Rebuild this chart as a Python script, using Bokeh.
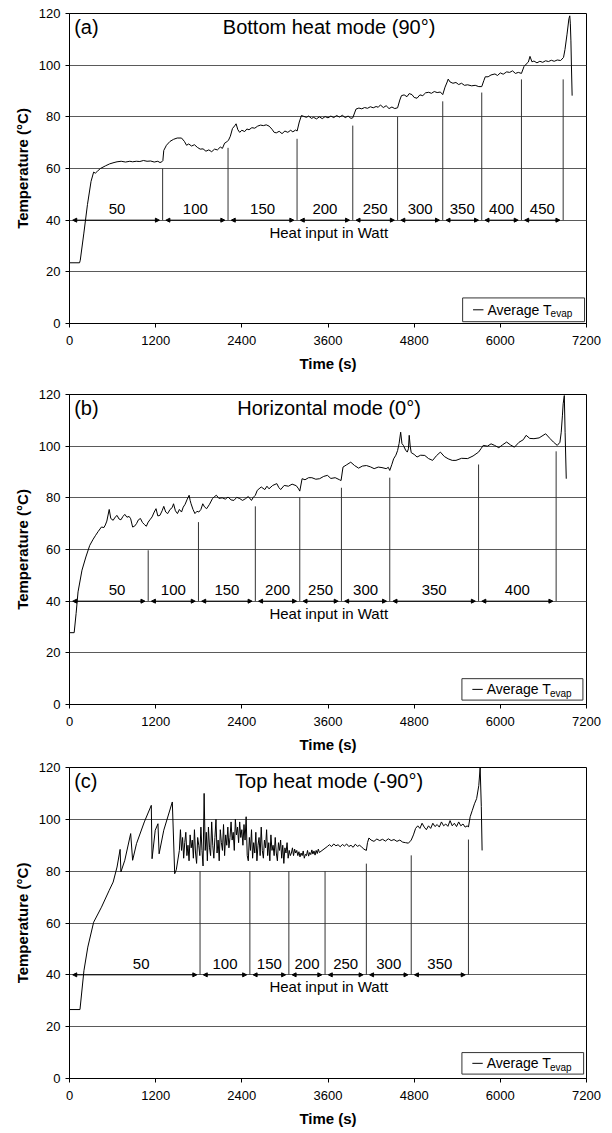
import numpy as np
from bokeh.plotting import figure
from bokeh.layouts import column
from bokeh.models import Arrow, NormalHead, FixedTicker, Range1d
from bokeh.core.properties import value
from bokeh.embed import file_html
from bokeh.resources import INLINE

FONT = "Liberation Sans"

# ---------------- Panel (a): Bottom heat mode (90°) ----------------
a_time = [0, 140, 150, 200, 250, 300, 336, 360, 391, 430, 499, 560, 620, 662, 720, 780, 840, 879, 930, 980,
          1030, 1080, 1130, 1180, 1230, 1260, 1286, 1300, 1313, 1350, 1400, 1450, 1500, 1560, 1600, 1630, 1660,
          1700, 1740, 1780, 1820, 1860, 1900, 1940, 1980, 2020, 2060, 2100, 2130, 2160, 2190, 2215, 2240, 2270,
          2300, 2320, 2345, 2370, 2400, 2440, 2470, 2500, 2540, 2580, 2620, 2660, 2700, 2740, 2780, 2820, 2850,
          2880, 2920, 2960, 3000, 3040, 3080, 3110, 3150, 3170, 3200, 3230, 3260, 3300, 3330, 3370, 3400, 3440,
          3480, 3520, 3560, 3600, 3640, 3680, 3720, 3760, 3800, 3840, 3880, 3920, 3945, 3970, 3990, 4030, 4070,
          4110, 4150, 4190, 4230, 4270, 4300, 4330, 4370, 4410, 4450, 4490, 4530, 4569, 4600, 4623, 4660, 4700,
          4731, 4770, 4800, 4840, 4880, 4920, 4960, 5003, 5040, 5080, 5120, 5165, 5198, 5230, 5260, 5274, 5300,
          5340, 5382, 5420, 5460, 5500, 5545, 5600, 5650, 5700, 5741, 5770, 5790, 5830, 5870, 5925, 5960, 6000,
          6040, 6088, 6130, 6170, 6210, 6251, 6294, 6330, 6359, 6390, 6413, 6440, 6468, 6510, 6550, 6590, 6631,
          6670, 6710, 6750, 6793, 6840, 6880, 6900, 6929, 6955, 6967, 6975, 6983, 6990, 7000]
a_temp = [23.5, 23.5, 24.5, 35, 46, 55, 58.6, 58.2, 59, 60, 61, 61.8, 62.3, 62.6, 62.8, 62.5, 62.8, 62.6, 62.8, 62.7,
          63.1, 62.8, 62.9, 62.5, 62.8, 62.3, 62.6, 63, 67, 69, 70.5, 71.3, 71.8, 71.8, 70.5, 69, 69.5,
          68.7, 69.2, 68.2, 67.5, 67.6, 66.7, 67.2, 66.5, 67.5, 67.2, 68.3, 67.8, 69.8, 70.3, 71, 72.5, 75.5,
          76.5, 77.3, 75, 74, 74.8, 74.3, 75.3, 75, 75.8, 75.6, 76.4, 76.8, 76.6, 76.9, 76.4, 75.2, 74,
          73.8, 74.4, 73.5, 74.5, 74, 74.8, 74.2, 74.9, 74.5, 78, 80.5, 80.2, 79.8, 80.3, 79.4, 79.8, 79.2,
          80, 79.3, 80.1, 79.6, 80.3, 79.7, 80.5, 79.9, 80.6, 79.7, 80.3, 79.4, 79.6, 81.5, 83, 83.4, 83.1,
          83.6, 83.3, 83.9, 83.5, 84, 83.7, 84.6, 83.6, 84.3, 83.2, 83.8, 83.2, 83.5, 86.5, 88.2, 88.5, 87.8,
          89, 88.6, 87.5, 87.2, 88.5, 88.2, 89.3, 89.5, 89.1, 89.8, 89.4, 89.6, 88.6, 91.5, 93.5, 94.6, 93.5,
          93, 93.3, 92.5, 93, 92.2, 92.4, 92, 92.2, 91.7, 91.7, 94, 95.5, 95.5, 96.2, 96.6, 96, 97,
          96.5, 97.4, 97.2, 97.8, 96.8, 97.2, 96.8, 99.5, 100.4, 101.2, 103.4, 101.3, 101.6, 100.9, 101.5, 101.1, 101.7,
          101.4, 101.9, 101.5, 102, 101.8, 103, 106, 112, 118, 119.1, 116, 109.4, 100, 88.2]
a_bounds = [0, 1297, 2208, 3169, 3945, 4569, 5198, 5741, 6294, 6875]
a_tops = [60, 68, 71.5, 76.6, 80, 86, 89.4, 94.5, 94.5]
a_watts = ["50", "100", "150", "200", "250", "300", "350", "400", "450"]

# ---------------- Panel (b): Horizontal mode (0°) ----------------
b_time = [0, 65, 92, 119, 174, 228, 282, 330, 364, 400, 445, 480, 499, 520, 553, 575, 608, 635, 662, 690, 716,
          745, 770, 800, 830, 852, 879, 905, 933, 960, 988, 1015, 1042, 1070, 1096, 1120, 1150, 1180, 1205, 1230,
          1259, 1290, 1313, 1340, 1367, 1400, 1430, 1449, 1475, 1503, 1530, 1560, 1584, 1610, 1640, 1666, 1680,
          1693, 1720, 1747, 1775, 1801, 1830, 1856, 1880, 1910, 1950, 1991, 2020, 2046, 2080, 2127, 2170, 2208,
          2250, 2290, 2330, 2371, 2410, 2453, 2490, 2534, 2560, 2588, 2615, 2640, 2670, 2720, 2750, 2778, 2830,
          2887, 2915, 2941, 2990, 3049, 3100, 3158, 3190, 3207, 3239, 3280, 3330, 3375, 3430, 3483, 3540, 3592,
          3640, 3700, 3760, 3782, 3809, 3860, 3917, 3970, 4026, 4080, 4135, 4190, 4243, 4300, 4352, 4410, 4440,
          4460, 4490, 4514, 4545, 4569, 4590, 4612, 4630, 4650, 4680, 4704, 4720, 4731, 4745, 4759, 4800, 4840,
          4890, 4948, 5000, 5057, 5110, 5165, 5220, 5274, 5330, 5382, 5460, 5545, 5620, 5697, 5730, 5762, 5820,
          5871, 5920, 5979, 6030, 6088, 6140, 6196, 6260, 6320, 6359, 6410, 6468, 6540, 6631, 6690, 6739, 6793,
          6830, 6848, 6865, 6875, 6891, 6902, 6918]
b_temp = [27.8, 27.8, 35.2, 43.6, 52, 57.1, 61.6, 64, 65.5, 67, 68.7, 68.5, 69.5, 71, 75.5, 72, 71.3, 72.5, 73.2, 71.8, 71.5,
          72.8, 73.6, 72.5, 72.8, 71.9, 68.7, 69, 70, 71.5, 72, 70.5, 69.7, 69, 70.6, 71.5, 72.6, 74.5, 75.8, 73,
          73.2, 75, 76.7, 74.5, 73.9, 75.5, 76.2, 77.7, 75, 73.9, 75.5, 74.5, 76.4, 77.5, 79.5, 81, 79,
          77.7, 75.5, 73.9, 74.8, 74.5, 75.5, 77.7, 76.5, 75.8, 77.5, 79.7, 80.5, 81, 79.8, 80, 79.5, 80.3,
          79.2, 79, 80.2, 79.7, 79, 79.7, 80.5, 79, 80.2, 81, 82.9, 83.5, 84.2, 83.2, 84.5, 83.5, 84.8,
          85.5, 84, 83.2, 84.8, 84.5, 85.3, 84.7, 83.5, 82.6, 87.4, 87, 87.8, 87.8, 87.2, 87.4, 88.3, 88.7,
          87.5, 87.8, 87, 86.7, 91.9, 92.8, 93.8, 92.5, 91.5, 92.3, 92.5, 92, 91.3, 91.9, 91.7, 91.3, 91.8,
          90.6, 93, 95.1, 96.5, 98.3, 101, 105.4, 101, 100.3, 98.5, 97.7, 99, 104.2, 100, 97.5, 96.8, 95.8,
          96.5, 96.4, 95.2, 94.5, 96.3, 97.7, 96, 95.1, 94.5, 94.5, 95.3, 95.2, 96.2, 97.7, 99, 100.3, 100,
          100.9, 100.3, 99.4, 100.5, 101.6, 100.5, 99.6, 101.5, 102.5, 104.2, 103, 102.9, 103.2, 104.8, 103, 101.6, 100.3,
          101.5, 105.4, 112, 116.4, 119.6, 105.4, 87.4]
b_bounds = [0, 1096, 1796, 2588, 3207, 3787, 4460, 5697, 6777]
b_tops = [59.7, 70.6, 76.7, 80.3, 83.9, 87.8, 92.9, 98]
b_watts = ["50", "100", "150", "200", "250", "300", "350", "400"]

# ---------------- Panel (c): Top heat mode (-90°) ----------------
c_time_head = [0, 146, 201, 255, 336, 445, 553, 608, 662, 705, 716, 770, 852, 879, 933, 1042, 1139, 1150, 1194,
               1232, 1248, 1313, 1432, 1465, 1487, 1530]
c_temp_head = [26.6, 26.6, 41.6, 50.7, 60.3, 66.1, 72.6, 75.8, 81.6, 88.4, 79.7, 84.2, 94.5, 84.2, 90.6, 99, 105.4,
               84.8, 95.8, 98.3, 86.7, 95.8, 106.7, 79, 80.5, 88]
# oscillating section sampled every 15 s from 1545 s
c_osc_start = 1545
c_osc_step = 15
c_temp_osc = [96, 88, 93, 85, 91, 95, 86, 90, 84, 94, 89, 92, 85, 96, 87, 83, 93, 90, 86, 97, 88, 82,
              110, 88,
              95, 84, 97, 89, 86, 99, 90, 85, 93, 100, 87, 92, 84, 96, 91, 88, 98, 86, 94, 90, 97, 89,
              93, 99, 92, 95, 88, 100, 94, 97, 91, 99, 93, 96, 90, 98, 92,
              101, 86,
              84, 93, 88, 96, 85, 91, 87, 95, 84, 90, 93, 86, 97, 88, 85, 92, 89, 96, 86, 91, 84, 94, 88, 90,
              86, 93, 87, 84, 91, 88, 92, 85, 90, 83, 89, 87, 91, 85, 88, 86,
              87, 89, 86, 88.5, 87, 88, 86, 87.5, 85.5, 87, 86, 87.8, 85, 86.5, 86, 88, 85.8, 87.2, 86.4,
              88.2, 86.6, 87.8, 86.2, 88, 86.8, 88.5, 87.2]
c_time_tail = [3590, 3620, 3650, 3680, 3710, 3740, 3770, 3800, 3830, 3860, 3890, 3920, 3950, 3980, 4010, 4040, 4070,
               4100, 4134, 4150, 4170, 4200, 4240, 4280, 4320, 4360, 4400, 4440, 4480, 4520, 4560, 4600, 4640,
               4680, 4720, 4759, 4790, 4820, 4850, 4880, 4910, 4940, 4970, 5000, 5030, 5060, 5090, 5120, 5150,
               5180, 5210, 5240, 5270, 5300, 5330, 5360, 5390, 5420, 5450, 5480, 5510, 5540, 5556, 5580, 5610,
               5640, 5670, 5700, 5719, 5735, 5746]
c_temp_tail = [89.5, 90.2, 89.5, 90.5, 89.8, 90.2, 89.4, 90.3, 89.7, 90.5, 89.5, 90, 89.2, 90.4, 89.6, 90, 89.3,
               88.5, 88, 91, 92.8, 92, 91.5, 92.4, 91.8, 92.3, 91.6, 92.5, 91.8, 92.2, 91.5, 92, 91.2,
               91, 90.8, 92, 94, 96.5, 97.5, 96.5, 98.5, 97, 96, 97.5, 96.5, 98.5, 97.2, 98, 97,
               99, 97.5, 98.2, 97.3, 99.5, 97.5, 98.5, 97.2, 99, 97.5, 98.2, 97, 97.5, 97, 101, 103.5,
               106, 108, 113, 120, 105, 88]
c_bounds = [0, 1818, 2512, 3055, 3559, 4134, 4759, 5556]
c_tops = [80, 80, 80, 80, 82.9, 86.1, 92.2]
c_watts = ["50", "100", "150", "200", "250", "300", "350"]

c_time = (c_time_head
          + [c_osc_start + c_osc_step * i for i in range(len(c_temp_osc))]
          + c_time_tail)
c_temp = c_temp_head + c_temp_osc + c_temp_tail

x_ticks = [0, 1200, 2400, 3600, 4800, 6000, 7200]
y_ticks = [0, 20, 40, 60, 80, 100, 120]


def make_panel(tag, title, t, T, bounds, tops, watts, height, top_border, frame_h, leg_box, first_label_x):
    p = figure(width=612, height=height, output_backend="svg", toolbar_location=None,
               x_range=Range1d(0, 7200), y_range=Range1d(0, 120),
               frame_width=517, frame_height=frame_h,
               min_border_left=69, min_border_right=26, min_border_top=top_border,
               min_border_bottom=height - top_border - frame_h)
    p.background_fill_color = "white"
    p.border_fill_color = "white"
    p.outline_line_color = "black"
    p.outline_line_width = 1

    for ax in (p.xaxis, p.yaxis):
        ax.axis_line_color = "black"
        ax.major_tick_line_color = "black"
        ax.major_tick_out = 4
        ax.major_tick_in = 0
        ax.minor_tick_line_color = None
        ax.major_label_text_font = FONT
        ax.major_label_text_font_size = "13px"
        ax.major_label_text_color = "black"
        ax.axis_label_text_font = FONT
        ax.axis_label_text_font_size = "15px"
        ax.axis_label_text_font_style = "bold"
        ax.axis_label_text_color = "black"
    p.xaxis.ticker = FixedTicker(ticks=x_ticks)
    p.yaxis.ticker = FixedTicker(ticks=y_ticks)
    p.xaxis.axis_label = "Time (s)"
    p.yaxis.axis_label = "Temperature (°C)"
    p.xaxis.major_label_standoff = 8
    p.xaxis.axis_label_standoff = 7
    p.yaxis.major_label_standoff = 5
    p.yaxis.axis_label_standoff = 5

    p.xgrid.grid_line_color = None
    p.ygrid.ticker = FixedTicker(ticks=y_ticks)
    p.ygrid.grid_line_color = "#5a5a5a"
    p.ygrid.grid_line_width = 1

    # vertical markers of heat-input changes
    p.segment(x0=bounds[1:], y0=[40] * len(tops), x1=bounds[1:], y1=tops, line_color="#333333", line_width=1)

    # double-headed arrows along the 40 °C line
    gap = 45
    for i in range(len(watts)):
        xs = bounds[i] + gap
        xe = bounds[i + 1] - gap
        p.add_layout(Arrow(x_start=xs, y_start=40, x_end=xe, y_end=40,
                           line_color="black", line_width=1,
                           start=NormalHead(size=4, fill_color="black", line_color="black", line_width=1),
                           end=NormalHead(size=4, fill_color="black", line_color="black", line_width=1)))
    mids = [(bounds[i] + bounds[i + 1]) / 2 for i in range(len(watts))]
    mids[0] = first_label_x
    p.text(x=mids, y=[44.2] * len(mids), text=watts, text_font=value(FONT), text_font_size="15px",
           text_align="center", text_baseline="middle", text_color="black")
    p.text(x=[3610], y=[35.4], text=["Heat input in Watt"], text_font=value(FONT), text_font_size="15px",
           text_align="center", text_baseline="middle", text_color="black")

    # temperature curve
    p.line(t, T, line_color="black", line_width=1)

    # panel tag and title
    p.text(x=[65], y=[114.6], text=[tag], text_font=value(FONT), text_font_size="20px",
           text_align="left", text_baseline="middle", text_color="black")
    p.text(x=[3615], y=[114.6], text=[title], text_font=value(FONT), text_font_size="20px",
           text_align="center", text_baseline="middle", text_color="black")

    # legend box
    x0, x1, y0, y1 = leg_box
    p.quad(left=[x0], right=[x1], bottom=[y0], top=[y1], fill_color="white", line_color="#333333", line_width=1)
    ym = (y0 + y1) / 2
    p.segment(x0=[x0 + 145], y0=[ym], x1=[x0 + 290], y1=[ym], line_color="black", line_width=1)
    p.text(x=[x0 + 345], y=[ym], text=["Average T"], text_font=value(FONT), text_font_size="14px",
           text_align="left", text_baseline="middle", text_color="black")
    p.text(x=[x0 + 1225], y=[ym - 1.5], text=["evap"], text_font=value(FONT), text_font_size="10px",
           text_align="left", text_baseline="middle", text_color="black")
    return p


pa = make_panel("(a)", "Bottom heat mode (90°)", a_time, a_temp, a_bounds, a_tops, a_watts,
                380, 13, 310, (5475, 7173, 0.7, 9.9), 662)
pb = make_panel("(b)", "Horizontal mode (0°)", b_time, b_temp, b_bounds, b_tops, b_watts,
                377, 14, 310, (5465, 7150, 1.7, 10.0), 662)
pc = make_panel("(c)", "Top heat mode (-90°)", c_time, c_temp, c_bounds, c_tops, c_watts,
                376, 10, 311, (5465, 7160, 1.7, 10.0), 998)

layout = column(pa, pb, pc, spacing=0)
open("out.html", "w").write(file_html(layout, INLINE))
